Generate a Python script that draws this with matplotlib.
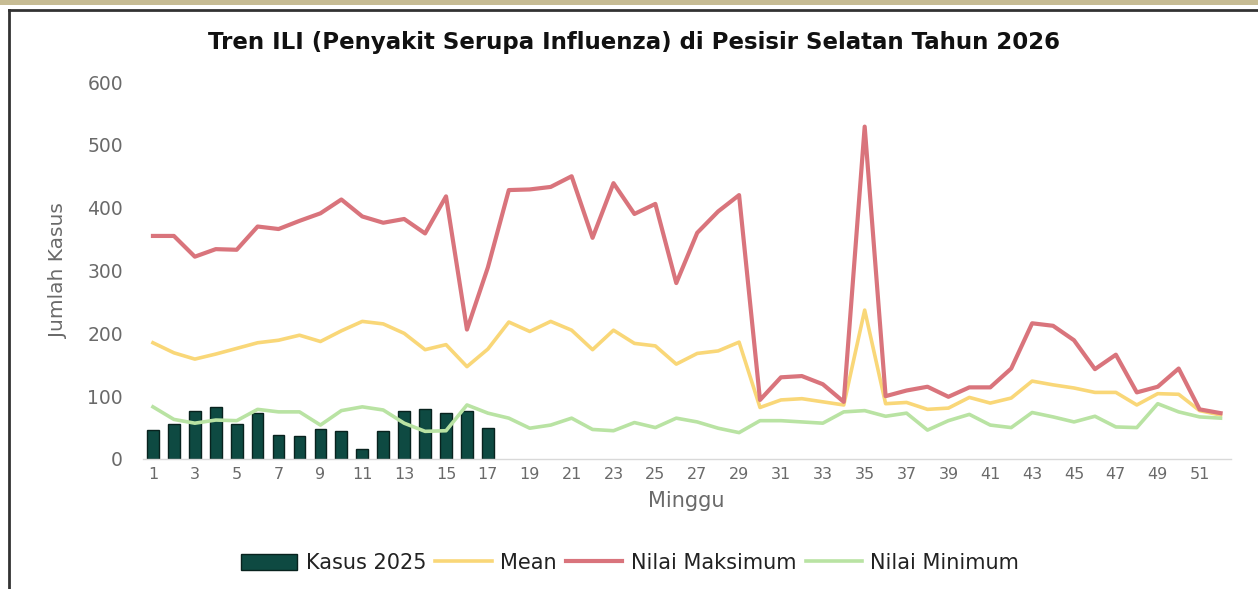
import matplotlib
matplotlib.use("Agg")
import matplotlib.pyplot as plt
from matplotlib.patches import Rectangle
from matplotlib.lines import Line2D

weeks = list(range(1, 53))
kasus_weeks = list(range(1, 18))
kasus_2025 = [46, 56, 77, 83, 56, 73, 38, 36, 48, 44, 16, 44, 77, 80, 73, 77, 50]
mean_vals = [185, 169, 159, 167, 176, 185, 189, 197, 187, 204, 219, 215, 200, 174, 182, 147, 175, 218,
             203, 219, 205, 174, 205, 184, 180, 151, 168, 172, 186, 82, 94, 96, 91, 86, 237,
             88, 90, 79, 81, 98, 89, 97, 124, 118, 113, 106, 106, 86, 104, 103, 77, 70]
max_vals = [355, 355, 322, 334, 333, 370, 366, 379, 391, 413, 386, 376, 382, 359, 418, 206, 305, 428,
            429, 433, 450, 352, 439, 390, 406, 280, 360, 394, 420, 94, 130, 132, 119, 91, 529,
            100, 109, 115, 99, 114, 114, 144, 216, 212, 189, 143, 166, 106, 115, 144, 79, 73]
min_vals = [83, 63, 57, 62, 61, 79, 75, 75, 54, 77, 83, 78, 57, 44, 45, 86, 73, 65,
            49, 54, 65, 47, 45, 58, 50, 65, 59, 49, 42, 61, 61, 59, 57, 75, 77,
            68, 73, 46, 61, 71, 54, 50, 74, 67, 59, 68, 51, 50, 88, 75, 67, 65]
y_ticks = [0, 100, 200, 300, 400, 500, 600]
x_ticks = list(range(1, 53, 2))

bar_color = "#0e4a42"
mean_color = "#f9d778"
max_color = "#d9747c"
min_color = "#b9e3a3"
txt_gray = "#6a6a6a"

fig = plt.figure(figsize=(12.58, 5.89), dpi=100)
fig.patch.set_facecolor("white")

# decorative frame
fig.add_artist(Rectangle((0, 1 - 5/589), 1, 5/589, transform=fig.transFigure,
                         facecolor="#c7bc94", edgecolor="none"))
fig.add_artist(Line2D([9/1258, 9/1258], [0, 1 - 10/589], transform=fig.transFigure,
                      color="#333333", lw=2))
fig.add_artist(Line2D([9/1258, 1], [1 - 10/589, 1 - 10/589], transform=fig.transFigure,
                      color="#333333", lw=2))

ax = fig.add_axes([142.5/1258, 1 - 459/589, (1231 - 142.5)/1258, (459 - 82)/589])
b = ax.bar(kasus_weeks, kasus_2025, width=0.56, color=bar_color, edgecolor="#08221e",
           linewidth=1.0, label="Kasus 2025", zorder=2)
l1, = ax.plot(weeks, mean_vals, color=mean_color, lw=2.6, label="Mean", zorder=3,
              solid_joinstyle="round")
l2, = ax.plot(weeks, max_vals, color=max_color, lw=3.0, label="Nilai Maksimum", zorder=4,
              solid_joinstyle="round")
l3, = ax.plot(weeks, min_vals, color=min_color, lw=2.6, label="Nilai Minimum", zorder=3,
              solid_joinstyle="round")

ax.set_xlim(0.5, 52.5)
ax.set_ylim(0, 600)
ax.set_yticks(y_ticks)
ax.set_xticks(x_ticks)
ax.tick_params(axis="both", length=0, colors=txt_gray)
ax.tick_params(axis="y", pad=14, labelsize=13.5)
ax.tick_params(axis="x", pad=6, labelsize=11.5)
for s in ["top", "right", "left"]:
    ax.spines[s].set_visible(False)
ax.spines["bottom"].set_color("#d9d9d9")
ax.spines["bottom"].set_linewidth(1)

ax.set_xlabel("Minggu", color=txt_gray, fontsize=15, labelpad=6)
ax.set_ylabel("Jumlah Kasus", color=txt_gray, fontsize=14.5, labelpad=14)

fig.text(634/1258, 1 - 42/589, "Tren ILI (Penyakit Serupa Influenza) di Pesisir Selatan Tahun 2026",
         ha="center", va="center", fontsize=16.5, fontweight="bold", color="#111111")

leg = fig.legend(handles=[b, l1, l2, l3], loc="center",
                 bbox_to_anchor=(630/1258, 1 - 563/589), ncol=4, frameon=False,
                 fontsize=15, handlelength=2.7, handleheight=0.8, columnspacing=0.45,
                 handletextpad=0.4)
for t in leg.get_texts():
    t.set_color("#222222")

fig.savefig("out.png", dpi=100)
